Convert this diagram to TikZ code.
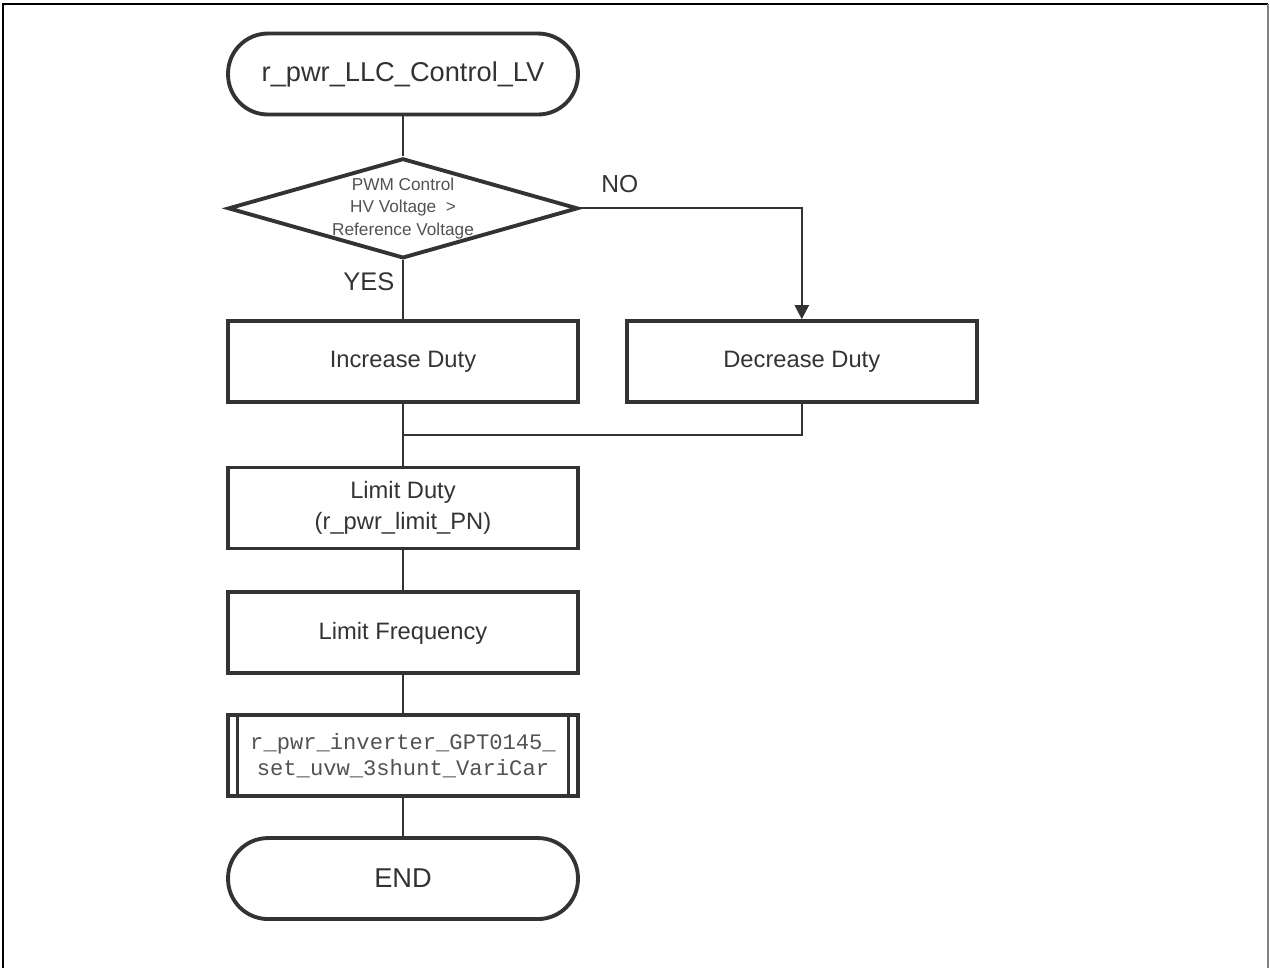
\documentclass[tikz,border=0pt]{standalone}
\usepackage{fontspec}
\setmainfont{Liberation Sans}
\newfontfamily\subfont{Liberation Mono}
\usetikzlibrary{positioning, shapes.geometric, arrows.meta, calc}
\definecolor{inkgray}{HTML}{333333}

\begin{document}
\begin{tikzpicture}[x=0.02cm, y=-0.02cm, node distance=0.84cm,
    box/.style={draw=inkgray, line width=2.2pt, text=inkgray, align=center,
                minimum width=7.0cm, minimum height=1.62cm,
                font=\fontsize{13.5}{17}\selectfont},
    term/.style={box, rounded corners=0.8cm, font=\fontsize{15.5}{18}\selectfont},
    line/.style={draw=inkgray, line width=1.2pt}]
    \useasboundingbox (0,0) rectangle (1270,968);
    % frame
    \draw[line width=1.6pt] (3,968) -- (3,4) -- (1268,4);
    \draw[line width=1.6pt, gray] (1268,4) -- (1268,968);

    \node[term]                                            (start)  at (403,74) {r\_pwr\_LLC\_Control\_LV};
    \node[box, diamond, minimum width=7.0cm, minimum height=2.0cm, inner sep=-8pt, aspect=3.5,
          text=inkgray!85, font=\fontsize{9.8}{12.8}\selectfont,
          below=0.8cm of start]                            (check)  {PWM Control\\HV Voltage \ >\\Reference Voltage};
    \node[box, below=1.18cm of check]                      (inc)    {Increase Duty};
    \node[box, right=0.9cm of inc]                         (dec)    {Decrease Duty};
    \node[box, below=1.23cm of inc, font=\fontsize{13.5}{17.5}\selectfont]
                                                           (limit)  {Limit Duty\\(r\_pwr\_limit\_PN)};
    \node[box, below=0.8cm of limit]                       (freq)   {Limit Frequency};
    \node[box, below=0.76cm of freq, text=inkgray!85, font=\subfont\fontsize{12.6}{14.4}\selectfont]
                                                           (setuvw) {r\_pwr\_inverter\_GPT0145\_\\set\_uvw\_3shunt\_VariCar};
    \node[term, below=0.76cm of setuvw]                    (end)    {END};

    % inner bars of the subroutine box
    \draw[line, line width=1.8pt] ([xshift=0.22cm]setuvw.north west) -- ([xshift=0.22cm]setuvw.south west);
    \draw[line, line width=1.8pt] ([xshift=-0.22cm]setuvw.north east) -- ([xshift=-0.22cm]setuvw.south east);

    \coordinate (join) at ($(inc.south)!0.5!(limit.north)$);

    \draw[line] (start) -- (check);
    \draw[line] (check) -- node[pos=0.37, left=1pt, text=inkgray, font=\fontsize{14.5}{17}\selectfont] {YES} (inc);
    \draw[line, -{Triangle[width=8pt, length=8pt]}] (check.east) -| node[pos=0.09, above=5pt, text=inkgray, font=\fontsize{14}{17}\selectfont] {NO} (dec.north);
    \draw[line] (inc) -- (limit);
    \draw[line] (dec.south) |- (join);
    \draw[line] (limit) -- (freq);
    \draw[line] (freq) -- (setuvw);
    \draw[line] (setuvw) -- (end);
\end{tikzpicture}
\end{document}
